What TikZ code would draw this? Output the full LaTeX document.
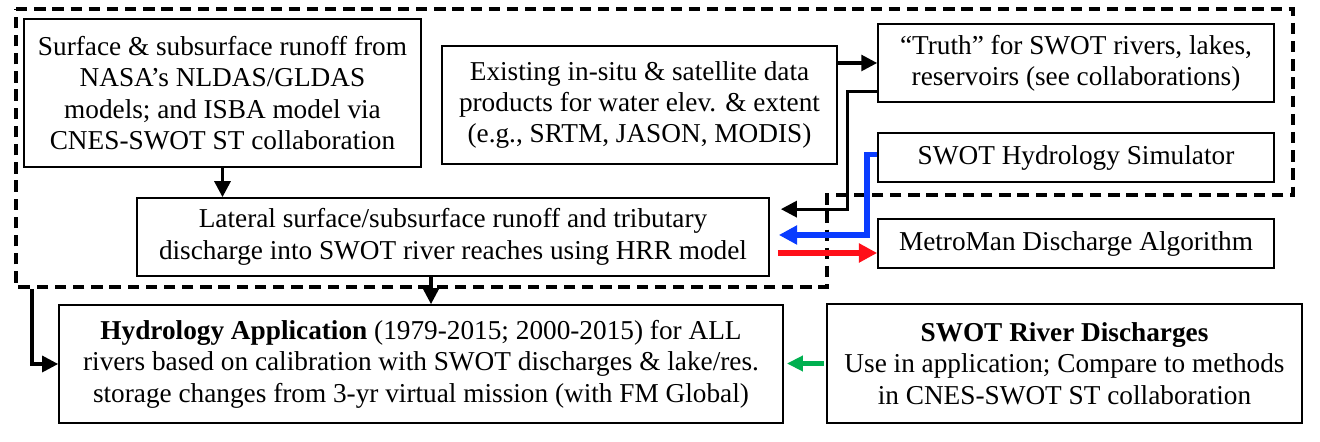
\documentclass[tikz,border=0pt]{standalone}
\usepackage{fontspec}
\setmainfont{Liberation Serif}
\usetikzlibrary{arrows.meta}
\newlength{\px}
\setlength{\px}{0.44pt}
\definecolor{swotblue}{RGB}{10,60,255}
\definecolor{swotred}{RGB}{255,15,25}
\definecolor{swotgreen}{RGB}{0,176,80}
\begin{document}
\begin{tikzpicture}[x=0.44pt,y=-0.44pt,font=\fontsize{12pt}{13.8pt}\selectfont,
  box/.style={draw,line width=0.75pt,align=center,inner sep=0pt},
  flow/.style={line width=1.4pt,-{Triangle[length=7pt,width=7pt]}},
  bigflow/.style={line width=2.6pt,-{Triangle[length=8pt,width=8pt]}}]
\useasboundingbox (0,0) rectangle (1320,442);
\draw[line width=1.6pt,dash pattern=on 5pt off 3pt] (16,9) -- (1293,9) -- (1293,195) -- (827,195) -- (827,287) -- (16,287) -- cycle;
\node[box,minimum width=397\px,minimum height=148\px] (runoff) at (222.5,93) {Surface \& subsurface runoff from\\NASA’s NLDAS/GLDAS\\models; and ISBA model via\\CNES-SWOT ST collaboration};
\node[box,minimum width=395\px,minimum height=118\px] (insitu) at (639.5,105) {Existing in-situ \& satellite data\\products for water elev. \& extent\\(e.g., SRTM, JASON, MODIS)};
\node[box,minimum width=396\px,minimum height=78\px] (truth) at (1076,63) {“Truth” for SWOT rivers, lakes,\\reservoirs (see collaborations)};
\node[box,minimum width=396\px,minimum height=49\px] (sim) at (1076,157.5) {SWOT Hydrology Simulator};
\node[box,minimum width=632\px,minimum height=78\px] (lateral) at (453,237) {Lateral surface/subsurface runoff and tributary\\discharge into SWOT river reaches using HRR model};
\node[box,minimum width=396\px,minimum height=49\px] (metroman) at (1076,243.5) {MetroMan Discharge Algorithm};
\node[box,minimum width=724\px,minimum height=118\px] (hydro) at (421,364) {\textbf{Hydrology Application} (1979-2015; 2000-2015) for ALL\\rivers based on calibration with SWOT discharges \& lake/res.\\storage changes from 3-yr virtual mission (with FM Global)};
\node[box,minimum width=475\px,minimum height=119\px] (discharges) at (1064.5,363.5) {\textbf{SWOT River Discharges}\\Use in application; Compare to methods\\in CNES-SWOT ST collaboration};
\coordinate (group) at (32,289);
\coordinate (tored) at ([xshift=8\px,yshift=-16\px]lateral.east);
\coordinate (todown) at ([xshift=-22\px]lateral.south);
\draw[flow] (runoff.south) -- (runoff.south |- lateral.north);
\draw[flow] (insitu.east |- truth.west) -- (truth.west);
\draw[flow] ([yshift=11\px]truth.south west) -- ++(-30,0) |- ([xshift=11\px,yshift=-12\px]lateral.north east);
\draw[bigflow,swotblue] ([yshift=3\px]sim.west) -- ++(-10,0) |- ([xshift=9\px,yshift=2\px]lateral.east);
\draw[bigflow,swotred] (tored) -- (tored -| metroman.west);
\draw[flow] (todown) -- (todown |- hydro.north);
\draw[flow] (group) |- (hydro.west);
\draw[line width=2pt,swotgreen,-{Triangle[length=7pt,width=6.5pt]}] ([xshift=-2\px]discharges.west) -- ([xshift=3\px]discharges.west -| hydro.east);
\end{tikzpicture}
\end{document}
